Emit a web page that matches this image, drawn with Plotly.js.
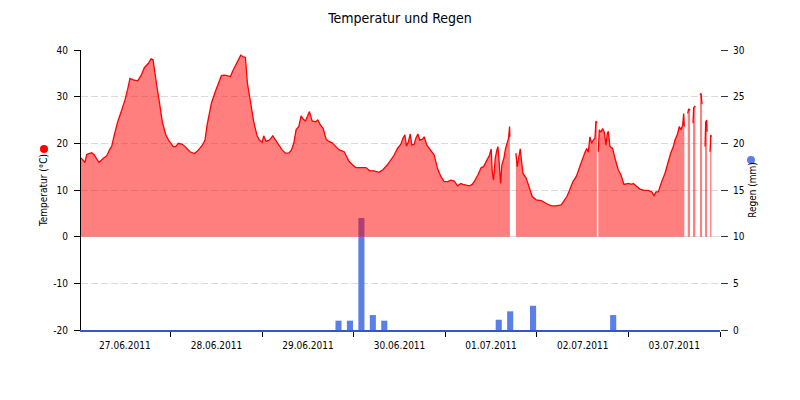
<!DOCTYPE html>
<html>
<head>
<meta charset="utf-8">
<script src="https://cdn.plot.ly/plotly-3.0.1.min.js"></script>
<style>html,body{margin:0;padding:0;background:#fff}#chart{width:800px;height:400px}</style>
</head>
<body>
<div id="chart"></div>
<script>
// Temperature: hours since 27.06.2011 00:00 and value in °C (null = gap in record)
const tempHours = [
 0.49,1.54,1.98,3.29,3.99,5.21,6.35,7.22,8.10,8.53,9.23,10.11,11.16,12.03,12.73,13.34,14.22,15.35,16.23,17.10,
 18.15,18.85,19.38,19.90,20.34,21.04,21.82,22.70,23.57,24.71,25.32,26.02,27.07,27.77,29.08,30.22,31.09,32.31,33.01,33.54,
 34.68,35.72,36.60,37.30,38.17,39.22,39.66,40.27,41.15,41.85,42.37,42.89,43.59,44.12,44.91,45.78,46.66,47.27,47.97,48.40,
 49.02,49.89,50.76,51.46,52.34,53.21,54.09,54.96,55.66,56.27,56.88,57.58,58.20,58.72,59.33,59.77,60.38,61.08,61.95,62.57,
 63.27,63.97,64.76,65.45,66.33,67.29,68.16,69.47,70.09,70.79,71.66,72.53,73.84,75.16,76.20,77.34,78.65,79.70,80.84,81.71,
 82.59,83.46,84.34,84.95,85.39,85.82,86.35,86.79,87.22,87.84,88.27,88.80,89.32,90.02,90.46,91.16,92.20,93.08,93.95,94.83,
 95.70,96.58,97.45,98.33,99.20,100.07,100.60,101.47,102.35,103.05,103.66,104.53,105.41,106.02,106.72,107.16,107.59,108.03,108.29,108.64,
 109.08,109.52,109.78,110.04,110.48,110.83,111.35,111.79,112.23,112.58,112.84,112.93,113.70,114.50,114.85,115.20,115.64,115.90,116.34,117.21,
 117.91,118.78,119.83,121.14,122.46,123.77,125.08,126.39,127.27,127.88,128.58,129.45,130.33,130.76,131.38,131.90,132.51,133.04,133.47,133.91,
 134.35,134.78,135.22,135.48,135.74,135.90,136.09,136.36,136.79,137.23,137.67,138.11,138.46,138.72,139.16,139.86,140.47,141.34,142.04,142.83,
 143.96,144.84,145.28,146.15,147.02,148.07,149.21,150.09,150.70,151.22,151.83,152.71,153.58,154.45,155.07,155.77,156.20,156.82,157.34,157.78,
 158.22,158.48,158.65,159.10,159.53,159.79,160.14,160.50,160.93,161.10,161.54,162.20,162.76,163.03,163.29,163.70,164.08,164.25,164.52,164.61,
 165.00,165.40,165.57,165.75
];
const tempC = [
 16.9,15.9,17.6,18.0,17.5,15.9,16.8,17.3,18.8,19.3,21.8,24.6,27.1,29.3,31.6,33.9,33.6,33.4,34.5,36.2,
 37.1,38.1,37.9,35.4,32.5,28.9,24.6,21.9,20.5,19.3,19.3,20.0,19.8,19.3,18.2,17.8,18.4,19.6,20.7,23.9,
 28.6,31.1,32.9,34.5,34.6,34.5,34.3,35.5,36.9,37.9,38.9,38.6,38.4,32.9,29.3,24.6,21.6,20.7,20.2,21.6,
 20.4,20.7,21.6,20.7,19.6,18.6,17.9,17.9,18.6,20.0,22.9,23.6,25.9,25.2,24.8,25.7,26.8,24.8,24.6,25.0,
 23.9,23.2,20.9,20.4,20.1,19.3,18.6,18.2,17.1,16.1,15.4,14.8,14.8,14.8,14.1,14.1,13.8,14.4,15.4,16.4,
 17.5,18.9,19.8,21.2,21.8,19.4,20.4,22.0,19.6,19.8,21.1,22.0,20.7,20.9,21.4,19.6,18.4,17.5,14.6,12.9,
 11.8,11.8,12.1,11.9,10.9,11.4,11.2,11.1,10.9,11.2,11.9,13.2,14.8,15.0,16.1,17.1,17.5,18.8,13.9,12.1,
 16.8,18.6,19.3,16.8,11.4,15.4,16.8,18.9,20.4,21.1,23.6,21.4,null,17.9,15.0,16.8,18.8,16.8,13.6,12.5,
 10.7,8.6,7.9,7.7,7.1,6.6,6.6,6.8,7.9,8.6,10.0,11.8,12.9,13.9,15.4,16.8,17.9,18.9,18.1,21.4,
 20.0,20.7,21.1,24.8,24.3,null,18.2,22.9,22.4,23.2,22.4,19.6,22.1,22.6,19.3,18.9,16.8,14.3,13.2,11.2,
 11.4,11.2,11.4,10.7,10.2,9.9,9.9,9.6,8.8,9.6,9.6,11.8,13.6,16.1,17.9,19.3,20.7,21.9,23.6,22.9,
 23.9,26.4,23.6,null,26.4,27.4,27.1,null,24.3,27.6,28.0,null,30.4,30.7,28.4,null,19.3,24.6,25.0,22.5,
 null,18.2,21.8,21.4
];

// Rain (3-hourly totals, mm)
const rainTimes = [
 '2011-06-29 20:00','2011-06-29 23:00','2011-06-30 02:00','2011-06-30 05:00','2011-06-30 08:00',
 '2011-07-01 14:00','2011-07-01 17:00','2011-07-01 23:00','2011-07-02 20:00'
];
const rainMm = [1.0, 1.0, 12.0, 1.6, 1.0, 1.1, 2.0, 2.6, 1.6];

// Axis ticks
const tempTickVals = [-20, -10, 0, 10, 20, 30, 40];
const tempTickText = ['-20', '-10', '0', '10', '20', '30', '40'];
const rainTickVals = [0, 5, 10, 15, 20, 25, 30];

const titleText = 'Temperatur und Regen';
const tempAxisTitle = 'Temperatur (°C)';
const rainAxisTitle = 'Regen (mm)';
const dateTickFormat = '%d.%m.%Y';

function hoursToDate(h) {
  const ms = Date.UTC(2011, 5, 27) + Math.round(h * 3600000);
  return new Date(ms).toISOString().replace('T', ' ').slice(0, 19);
}
const tempDates = tempHours.map(hoursToDate);

// split the record at its gaps so that every piece gets its own filled area
const segments = [];
let cur = { x: [], y: [] };
tempC.forEach((v, i) => {
  if (v === null) {
    if (cur.x.length) segments.push(cur);
    cur = { x: [], y: [] };
  } else {
    cur.x.push(tempDates[i]);
    cur.y.push(v);
  }
});
if (cur.x.length) segments.push(cur);

const FONT = '"DejaVu Sans Condensed", "Liberation Sans", sans-serif';
const RED = '#ff0000';
const BLUE = '#5b7fe9';

const traces = [
  {
    type: 'bar', x: rainTimes, y: rainMm, yaxis: 'y', xaxis: 'x',
    width: 1.6 * 3600000,
    marker: { color: BLUE },
    showlegend: false
  }
].concat(segments.map(s => ({
  type: 'scatter', mode: 'lines', x: s.x, y: s.y, yaxis: 'y2', xaxis: 'x',
  line: { color: RED, width: 1.3 },
  fill: 'tozeroy', fillcolor: 'rgba(255,0,0,0.5)',
  showlegend: false
})));

const layout = {
  width: 800, height: 400,
  margin: { l: 81, r: 80, t: 50, b: 70 },
  paper_bgcolor: '#fff', plot_bgcolor: '#fff',
  font: { family: FONT, size: 10, color: '#000' },
  showlegend: false,
  title: { text: titleText, x: 0.5, xanchor: 'center', y: 0.955, yanchor: 'middle', yref: 'container',
           font: { family: FONT, size: 14, color: '#000' } },
  xaxis: {
    type: 'date',
    range: ['2011-06-27 00:30', '2011-07-04 00:00'],
    tick0: '2011-06-27', dtick: 86400000,
    tickformat: dateTickFormat, ticklabelmode: 'period',
    ticks: 'outside', ticklen: 5, tickcolor: '#000', tickwidth: 1,
    showline: true, linecolor: '#3556c8', linewidth: 2,
    showgrid: false, zeroline: false, automargin: false,
    tickfont: { family: FONT, size: 10, color: '#000' }
  },
  yaxis: {
    side: 'right', range: [0, 30], tickmode: 'array', tickvals: rainTickVals,
    ticks: 'outside', ticklen: 7, tickcolor: '#333',
    showline: false, showgrid: false, zeroline: false, automargin: false,
    ticklabelstandoff: 3,
    tickfont: { family: FONT, size: 10, color: '#000' },
    title: { text: rainAxisTitle, standoff: 5, font: { family: FONT, size: 10, color: '#000' } }
  },
  yaxis2: {
    overlaying: 'y', side: 'left', range: [-20, 40],
    tickmode: 'array', tickvals: tempTickVals, ticktext: tempTickText,
    ticks: 'outside', ticklen: 6, tickcolor: '#000',
    showline: true, linecolor: '#000', linewidth: 1,
    showgrid: true, gridcolor: '#dadada', griddash: '7px,3px', gridwidth: 1,
    zeroline: true, zerolinecolor: '#dedede', zerolinewidth: 1,
    automargin: false, ticklabelstandoff: 4,
    tickfont: { family: FONT, size: 10, color: '#000' },
    title: { text: tempAxisTitle, standoff: 3, font: { family: FONT, size: 10, color: '#000' } }
  },
  shapes: [
    { type: 'circle', xref: 'paper', yref: 'paper', xsizemode: 'pixel', ysizemode: 'pixel',
      xanchor: -0.0579, yanchor: 0.6464, x0: -4, x1: 4, y0: -4, y1: 4,
      fillcolor: RED, line: { width: 0 } },
    { type: 'circle', xref: 'paper', yref: 'paper', xsizemode: 'pixel', ysizemode: 'pixel',
      xanchor: 1.0485, yanchor: 0.607, x0: -4, x1: 4, y0: -4, y1: 4,
      fillcolor: BLUE, line: { width: 0 } }
  ]
};

Plotly.newPlot('chart', traces, layout, { displayModeBar: false, staticPlot: true });
</script>
</body>
</html>
